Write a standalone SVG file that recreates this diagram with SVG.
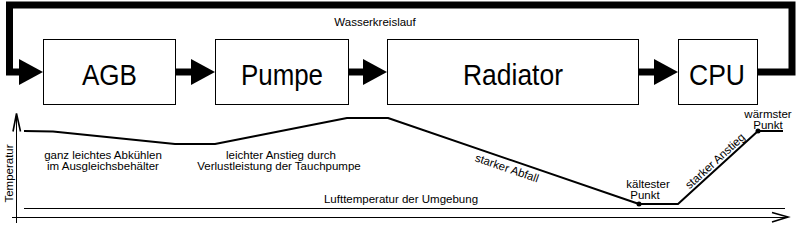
<svg xmlns="http://www.w3.org/2000/svg" width="798" height="226" viewBox="0 0 798 226">
<style>
.box{fill:#fff;stroke:#000;stroke-width:1}
.big{font-family:"Liberation Sans",Arial,sans-serif;font-size:29px;fill:#000;text-anchor:middle}
.sm{font-family:"Liberation Sans",Arial,sans-serif;font-size:11.5px;fill:#000;text-anchor:middle}
.pipe{fill:none;stroke:#000;stroke-width:7;stroke-linejoin:miter}
.thin{fill:none;stroke:#000;stroke-width:1}
.curve{fill:none;stroke:#000;stroke-width:2;stroke-linejoin:round}
</style>
<defs>
<polygon id="ah" points="0,0 -24,-13 -24,13" fill="#000"/>
</defs>
<rect width="798" height="226" fill="#fff"/>
<g id="connectors">
<polyline class="pipe" points="758,72 792,72 792,5 9.5,5 9.5,72 22,72"/>
<use href="#ah" x="43" y="72"/>
<line class="pipe" x1="176" y1="72" x2="193" y2="72"/>
<use href="#ah" x="215" y="72"/>
<line class="pipe" x1="349" y1="72" x2="365" y2="72"/>
<use href="#ah" x="387" y="72"/>
<line class="pipe" x1="639" y1="72" x2="656" y2="72"/>
<use href="#ah" x="678" y="72"/>
<text class="sm" x="375" y="26">Wasserkreislauf</text>
</g>
<g id="agb">
<rect class="box" x="43.5" y="39.5" width="132" height="65"/>
<text class="big" x="109.5" y="85" textLength="55" lengthAdjust="spacingAndGlyphs">AGB</text>
</g>
<g id="pumpe">
<rect class="box" x="215.5" y="39.5" width="133" height="65"/>
<text class="big" x="282" y="85" textLength="82" lengthAdjust="spacingAndGlyphs">Pumpe</text>
</g>
<g id="radiator">
<rect class="box" x="387.5" y="39.5" width="251" height="65"/>
<text class="big" x="513" y="85" textLength="100" lengthAdjust="spacingAndGlyphs">Radiator</text>
</g>
<g id="cpu">
<rect class="box" x="678.5" y="39.5" width="79" height="65"/>
<text class="big" x="717" y="85" textLength="56" lengthAdjust="spacingAndGlyphs">CPU</text>
</g>
<g id="graph">
<line class="thin" x1="16.5" y1="114" x2="16.5" y2="223"/>
<polyline fill="none" stroke="#000" stroke-width="1.6" points="13,131.5 16.5,113.5 20.5,131.5"/>
<line class="thin" x1="12" y1="217.5" x2="788" y2="217.5"/>
<polyline fill="none" stroke="#000" stroke-width="1.6" points="772,212.5 788,217 772,222"/>
<line class="thin" x1="24" y1="208.5" x2="785" y2="208.5"/>
<polyline class="curve" points="24,131 53,131.5 175,144 215,144 347,118 388,118 639,204 678,204 758,131 783,131"/>
<circle cx="639" cy="204" r="2.5"/>
<circle cx="758" cy="131" r="2.5"/>
<text class="sm" transform="translate(13,173.5) rotate(-90)" x="0" y="0">Temperatur</text>
<text class="sm" x="103" y="159">ganz leichtes Abkühlen</text>
<text class="sm" x="103" y="170">im Ausgleichsbehälter</text>
<text class="sm" x="281" y="159">leichter Anstieg durch</text>
<text class="sm" x="279" y="170">Verlustleistung der Tauchpumpe</text>
<text class="sm" transform="translate(507,168) rotate(19)" x="0" y="4">starker Abfall</text>
<text class="sm" transform="translate(715,161) rotate(-42.4)" x="0" y="4">starker Anstieg</text>
<text class="sm" x="648" y="188">kältester</text>
<text class="sm" x="645" y="199">Punkt</text>
<text class="sm" x="768" y="118">wärmster</text>
<text class="sm" x="768" y="129">Punkt</text>
<text class="sm" x="401" y="203">Lufttemperatur der Umgebung</text>
</g>
</svg>
